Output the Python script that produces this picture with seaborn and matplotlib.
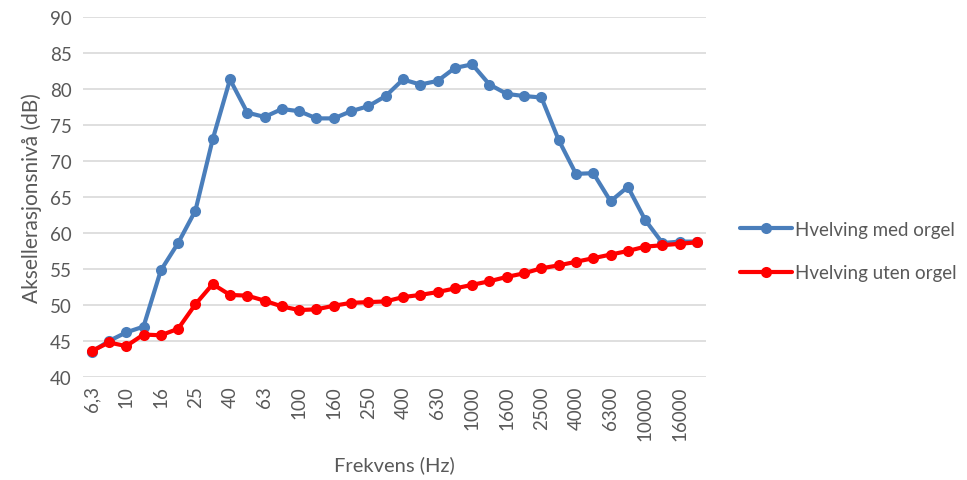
import matplotlib
matplotlib.use('Agg')
import matplotlib.pyplot as plt
import pandas as pd
import seaborn as sns

bands = ['6,3', '8', '10', '12,5', '16', '20', '25', '31,5', '40', '50', '63', '80',
         '100', '125', '160', '200', '250', '315', '400', '500', '630', '800',
         '1000', '1250', '1600', '2000', '2500', '3150', '4000', '5000', '6300',
         '8000', '10000', '12500', '16000', '20000']

med_orgel = [43.5, 45.0, 46.2, 47.0, 54.8, 58.6, 63.1, 73.0, 81.3, 76.7, 76.1, 77.2,
             76.9, 75.9, 75.9, 76.9, 77.6, 79.0, 81.3, 80.6, 81.1, 82.9,
             83.4, 80.6, 79.3, 79.0, 78.8, 72.9, 68.2, 68.3, 64.4,
             66.4, 61.8, 58.6, 58.8, 58.8]

uten_orgel = [43.6, 44.8, 44.3, 45.9, 45.8, 46.7, 50.1, 52.9, 51.4, 51.3, 50.6, 49.8,
              49.3, 49.4, 49.9, 50.3, 50.4, 50.5, 51.1, 51.4, 51.8, 52.3,
              52.8, 53.3, 53.9, 54.4, 55.1, 55.5, 56.0, 56.5, 57.0,
              57.5, 58.1, 58.3, 58.5, 58.7]

series_names = ['Hvelving med orgel', 'Hvelving uten orgel']
colors = ['#4A7EBB', '#FF0000']

df = pd.DataFrame({
    'pos': list(range(len(bands))) * 2,
    'level': med_orgel + uten_orgel,
    'serie': [series_names[0]] * len(bands) + [series_names[1]] * len(bands),
})

sns.set_theme(style='white')
plt.rcParams['font.family'] = ['Lato', 'DejaVu Sans']
grey = '#595959'

fig = plt.figure(figsize=(9.67, 4.81), dpi=100)
ax = fig.add_axes([0.0858, 0.214, 0.644, 0.749])

sns.lineplot(data=df, x='pos', y='level', hue='serie', palette=colors,
             marker='o', markersize=8, markeredgewidth=0, linewidth=3,
             sort=False, ax=ax)

ax.set_xlim(-0.5, len(bands) - 0.5)
ax.set_ylim(40, 90)
ax.set_yticks(range(40, 91, 5))
ax.set_xticks(range(0, len(bands), 2))
ax.set_xticklabels(bands[::2], rotation=90)
ax.tick_params(axis='both', length=0, labelsize=13.5, colors=grey)
ax.tick_params(axis='x', pad=6)
ax.tick_params(axis='y', pad=8)
ax.grid(axis='y', color='#D9D9D9', linewidth=1.2)
ax.set_axisbelow(True)
for s in ax.spines.values():
    s.set_visible(False)

ax.set_xlabel('Frekvens (Hz)', fontsize=14.5, color=grey, labelpad=11)
ax.set_ylabel('Aksellerasjonsnivå (dB)', fontsize=15, color=grey, labelpad=6)

leg = ax.legend(loc='center left', bbox_to_anchor=(1.055, 0.35), frameon=False,
                fontsize=13.5, labelspacing=1.4, handlelength=2.8, handletextpad=0.15,
                borderaxespad=0, borderpad=0)
for t in leg.get_texts():
    t.set_color(grey)

fig.savefig('out.png', dpi=100)
